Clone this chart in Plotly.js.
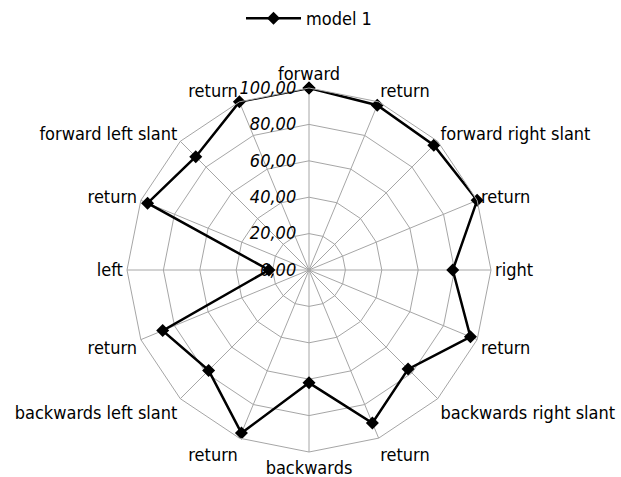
<!DOCTYPE html>
<html>
<head>
<meta charset="utf-8">
<script src="https://cdn.plot.ly/plotly-3.0.1.min.js"></script>
<style>
  html, body { margin: 0; padding: 0; background: #fff; }
  #chart { width: 621px; height: 477px; }
</style>
</head>
<body>
<div id="chart"></div>
<script>
// Movement directions, clockwise from the top; ids keep repeated labels distinct
const directionIds = [
  'forward', 'return-1', 'forward right slant', 'return-2', 'right', 'return-3',
  'backwards right slant', 'return-4', 'backwards', 'return-5',
  'backwards left slant', 'return-6', 'left', 'return-7', 'forward left slant', 'return-8'
];
const directionLabels = [
  'forward', 'return', 'forward right slant', 'return', 'right', 'return',
  'backwards right slant', 'return', 'backwards', 'return',
  'backwards left slant', 'return', 'left', 'return', 'forward left slant', 'return'
];
const model1 = [100, 98, 97, 100, 79, 96, 77, 91, 62, 97, 78, 87, 22, 96, 88, 100];
const radialTicks = [0, 20, 40, 60, 80, 100];

// close the polygon back to the first direction
const theta = directionIds.concat([directionIds[0]]);
const r = model1.concat([model1[0]]);

const font = 'DejaVu Sans Condensed, Liberation Sans Narrow, sans-serif';
const gridColor = '#a6a6a6';

const trace = {
  type: 'scatterpolar',
  mode: 'lines+markers',
  name: 'model 1',
  theta: theta,
  r: r,
  line: { color: '#000000', width: 2.5 },
  marker: { symbol: 'diamond', size: 10, color: '#000000' },
  cliponaxis: false
};

const layout = {
  width: 621,
  height: 477,
  margin: { l: 60, r: 63, t: 88, b: 25 },
  paper_bgcolor: '#ffffff',
  separators: ',.',
  font: { family: font, size: 18, color: '#000000' },
  showlegend: true,
  legend: {
    orientation: 'h',
    x: 0.5, xanchor: 'center',
    y: 1.0, yanchor: 'top',
    yref: 'container',
    itemwidth: 55,
    font: { family: font, size: 18, color: '#000000' }
  },
  polar: {
    bgcolor: 'rgba(0,0,0,0)',
    gridshape: 'linear',
    domain: { x: [0, 1], y: [0, 1] },
    angularaxis: {
      type: 'category',
      categoryorder: 'array',
      categoryarray: directionIds,
      tickmode: 'array',
      tickvals: directionIds,
      ticktext: directionLabels,
      rotation: 90,
      direction: 'clockwise',
      showline: true,
      linecolor: gridColor,
      linewidth: 1,
      showgrid: true,
      gridcolor: gridColor,
      gridwidth: 1,
      ticks: '',
      tickfont: { family: font, size: 18, color: '#000000' }
    },
    radialaxis: {
      range: [0, 100],
      tickmode: 'array',
      tickvals: radialTicks,
      tickformat: '.2f',
      angle: 90,
      side: 'counterclockwise',
      showline: false,
      showgrid: true,
      gridcolor: gridColor,
      gridwidth: 1,
      ticks: 'outside',
      ticklen: 6,
      tickcolor: 'rgba(0,0,0,0)',
      tickangle: 90,
      tickfont: { family: font, size: 18, color: '#000000', style: 'italic' }
    }
  }
};

Plotly.newPlot('chart', [trace], layout, { displayModeBar: false, staticPlot: true });
</script>
</body>
</html>
